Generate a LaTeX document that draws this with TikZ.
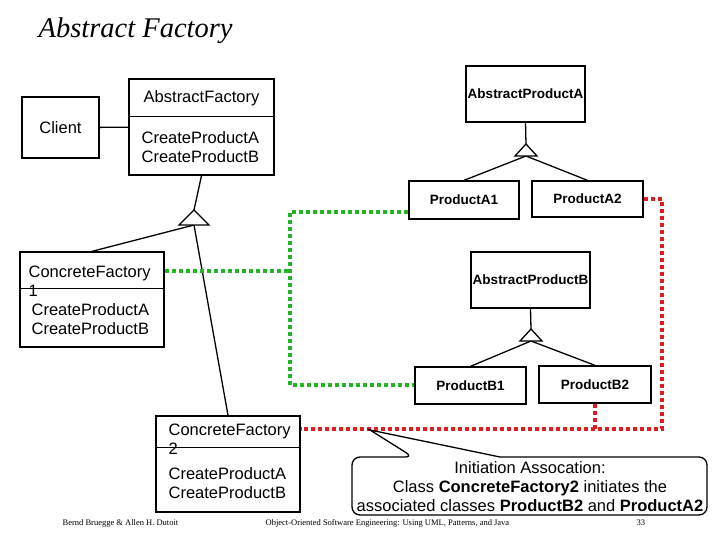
\documentclass[tikz,border=0pt]{standalone}
\usepackage{fontspec}
\setmainfont{Liberation Sans}
\newfontfamily\serifface{Liberation Serif}
\definecolor{assocgreen}{RGB}{34,180,34}
\definecolor{assocred}{RGB}{220,30,30}

\begin{document}
\begin{tikzpicture}[x=1pt, y=-1pt, line width=1.3pt,
  every node/.style = {inner sep=0pt, font=\fontsize{16.5}{19}\selectfont},
  cls/.style = {shape=rectangle, draw, line width=1.3pt},
  prod/.style = {cls, font=\fontsize{13.5}{16}\selectfont\bfseries},
  ops/.style = {anchor=west, align=left},
  footer/.style = {anchor=base west, font=\serifface\fontsize{8.5}{10}\selectfont},
  dotlink/.style = {line width=4pt, dash pattern=on 4pt off 3pt}]
  \useasboundingbox (0,0) rectangle (720,540);

  \node[anchor=base west, font=\serifface\itshape\fontsize{28.5}{32}\selectfont] (title) at (38,38) {Abstract Factory};

  % factories
  \node[cls, minimum width=77pt, minimum height=61pt] (client) at (60.5,127.5) {Client};
  \node[cls, minimum width=145pt, minimum height=96pt] (af) at (201.5,127) {};
  \node (afname) at (201.5,98) {AbstractFactory};
  \node[ops] (afops) at (141,147.5) {CreateProductA\\CreateProductB};
  \draw ([yshift=-38pt]af.north west) -- ([yshift=-38pt]af.north east);
  \draw (client) -- (af);

  \node[cls, minimum width=144pt, minimum height=95pt] (cf1) at (92,299.5) {};
  \node[ops] (cf1name) at (28,281.5) {ConcreteFactory\\1};
  \node[ops] (cf1ops) at (31,319.5) {CreateProductA\\CreateProductB};
  \draw ([yshift=-37pt]cf1.north west) -- ([yshift=-37pt]cf1.north east);

  \node[cls, minimum width=144pt, minimum height=96pt] (cf2) at (228,464) {};
  \node[ops] (cf2name) at (168,439.5) {ConcreteFactory\\2};
  \node[ops] (cf2ops) at (168,483) {CreateProductA\\CreateProductB};
  \draw ([yshift=-32pt]cf2.north west) -- ([yshift=-32pt]cf2.north east);

  \coordinate (afTip) at (194,210);
  \coordinate (afBase) at (194,225);
  \draw (af.south) -- (afTip);
  \draw (afBase) -- (cf1.north);
  \draw (afBase) -- (cf2.north);
  \draw[fill=white] (afTip) -- ++(-15,15) -- ++(30,0) -- cycle;

  % products
  \node[prod, minimum width=119pt, minimum height=56pt] (apa) at (525.5,94) {AbstractProductA};
  \node[prod, minimum width=110pt, minimum height=38pt] (pa1) at (464,200) {ProductA1};
  \node[prod, minimum width=111pt, minimum height=36pt] (pa2) at (587.5,199) {ProductA2};
  \coordinate (aTip) at (526,144);
  \coordinate (aBase) at (526,156);
  \draw (apa.south) -- (aTip);
  \draw (aBase) -- (pa1.north);
  \draw (aBase) -- (pa2.north);
  \draw[fill=white] (aTip) -- ++(-11,12) -- ++(22,0) -- cycle;

  \node[prod, minimum width=119pt, minimum height=56pt] (apb) at (530.5,280) {AbstractProductB};
  \node[prod, minimum width=111pt, minimum height=37pt] (pb1) at (470.5,385.5) {ProductB1};
  \node[prod, minimum width=112pt, minimum height=37pt] (pb2) at (595,384.5) {ProductB2};
  \coordinate (bTip) at (531,329);
  \coordinate (bBase) at (531,341);
  \draw (apb.south) -- (bTip);
  \draw (bBase) -- (pb1.north);
  \draw (bBase) -- (pb2.north);
  \draw[fill=white] (bTip) -- ++(-11,12) -- ++(22,0) -- cycle;

  % associations
  \coordinate (gTop) at (290,212);
  \coordinate (gMid) at (290,271);
  \coordinate (gBot) at (290,385);
  \draw[dotlink, assocgreen] (pa1.west |- gTop) -- (gTop) -- (gBot) -- (pb1.west |- gBot);
  \draw[dotlink, assocgreen] (cf1.east |- gMid) -- (gMid);

  \coordinate (rTop) at (662,199);
  \coordinate (rBot) at (662,429);
  \draw[dotlink, assocred] (pa2.east) -- (rTop) -- (rBot) -- (cf2.east |- rBot);
  \draw[dotlink, assocred] (pb2.south) -- (pb2.south |- rBot);

  % note
  \coordinate (noteTip) at (370,430);
  \draw[fill=white, rounded corners=8pt] (500,457) -- (707,457) -- (707,515) -- (352,515) -- (352,457) -- (413,457) [sharp corners] -- (noteTip) -- cycle;
  \node[align=center] (note) at (530,486.5) {Initiation Assocation:\\Class \textbf{ConcreteFactory2} initiates the\\associated classes \textbf{ProductB2} and \textbf{ProductA2}};

  \node[footer] (authors) at (62,525) {Bernd Bruegge \& Allen H. Dutoit};
  \node[footer] (book) at (265,525) {Object-Oriented Software Engineering: Using UML, Patterns, and Java};
  \node[footer] (page) at (636,525) {33};
\end{tikzpicture}
\end{document}
